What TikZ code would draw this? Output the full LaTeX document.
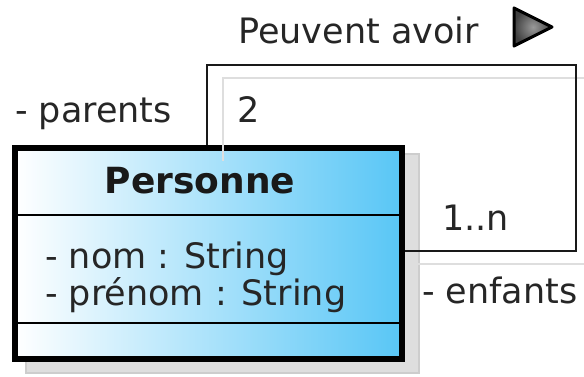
\documentclass[tikz,border=0pt]{standalone}
\usepackage{fontspec}
\setmainfont{DejaVu Sans}
\usetikzlibrary{calc}
\definecolor{classblue}{RGB}{88,198,246}
\definecolor{linkgray}{RGB}{25,25,25}
\definecolor{shadowgray}{RGB}{222,222,222}
\definecolor{shadowedge}{RGB}{205,205,205}
\tikzset{
  txt/.style={anchor=base west, inner sep=0pt, font=\fontsize{35}{37}\selectfont, text=black!85},
  classbox/.style={draw=black, line width=6pt, left color=white, right color=classblue,
    minimum width=387pt, minimum height=211pt, inner sep=0pt},
  classshadow/.style={fill=shadowgray, draw=shadowedge, line width=1.5pt},
  sepline/.style={draw=black, line width=2pt},
  link/.style={draw=linkgray, line width=2.6pt},
  linkshadow/.style={draw=shadowgray, line width=2pt},
}
\begin{document}
\begin{tikzpicture}[x=1pt, y=-1pt]
\useasboundingbox (0,0) rectangle (584,376);

% drop shadow of the class
\fill[classshadow] (26,154) rectangle (419,373);

% class Personne
\node[classbox] (cls) at (208.5,253.5) {};
\draw[sepline] (cls.west |- 0,215) coordinate (s1) -- (cls.east |- 0,215) coordinate (s1e);
\draw[sepline] (cls.west |- 0,323) coordinate (s2) -- (cls.east |- 0,323) coordinate (s2e);
\node[anchor=base, inner sep=0pt, font=\fontsize{36}{38}\selectfont\bfseries, text=black!90] (title) at (200,193) {Personne};
\node[txt] (a1) at (45,268) {- nom : String};
\node[txt] (a2) at (45,305) {- prénom : String};

% shadow of the reflexive association
\coordinate (h0) at (223,161);
\coordinate (h1) at (223,78);
\coordinate (h2) at (592,78);
\coordinate (h3) at (592,264);
\coordinate (h4) at (418,264);
\draw[linkshadow] (h0) -- (h1) -- (h2) -- (h3) -- (h4);

% reflexive association
\coordinate (c1) at (207,65);
\coordinate (c2) at (576,65);
\coordinate (c3) at (576,251);
\draw[link, line join=miter] ([xshift=-1.5pt]cls.north) -- (c1) -- (c2) -- (c3) -- ([yshift=2.5pt]cls.east);

% association name and reading direction
\node[txt] (name) at (238,43) {Peuvent avoir};
\coordinate (tri) at (514,27);
\draw[line width=3pt, line join=round, draw=black, inner color=black!40, outer color=black!75]
  ($(tri)+(0,-19)$) -- ($(tri)+(38,0)$) -- ($(tri)+(0,19)$) -- cycle;

% roles and multiplicities
\node[txt] (rp) at (15,122) {- parents};
\node[txt] (m2) at (237,122) {2};
\node[txt] (mn) at (442,230) {1..n};
\node[txt] (re) at (422,303) {- enfants};
\end{tikzpicture}
\end{document}
